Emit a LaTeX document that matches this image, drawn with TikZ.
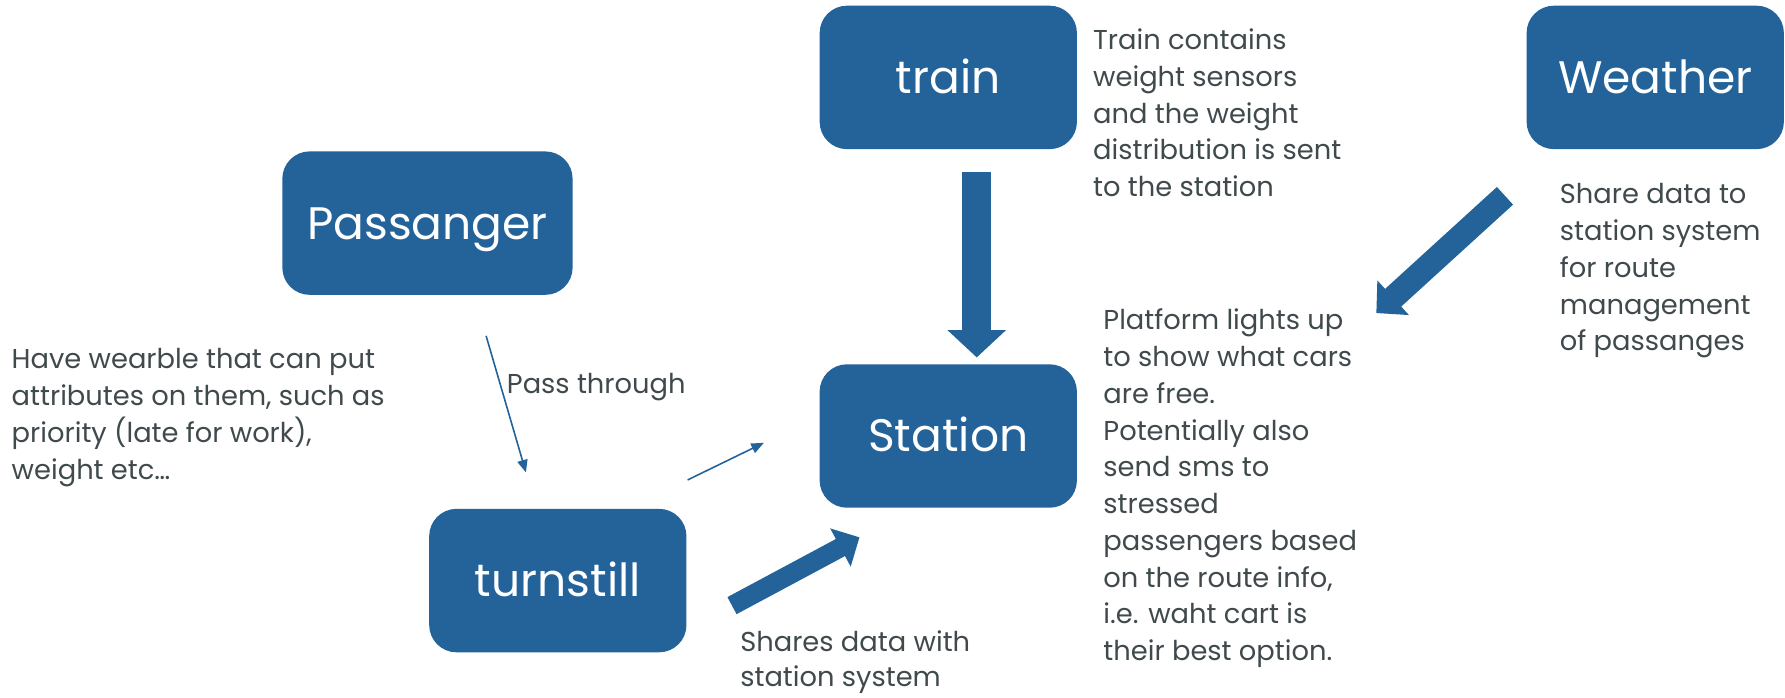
\documentclass[tikz,border=0pt]{standalone}
\usepackage{fontspec}
\setmainfont{Poppins}
\usepackage{tikz}
\usetikzlibrary{arrows.meta}
\usetikzlibrary{positioning}
\definecolor{boxblue}{HTML}{23639A}
\definecolor{txtgray}{HTML}{404A4D}

\begin{document}
\begin{tikzpicture}[x=1pt, y=-1pt, >={Triangle[length=11pt,width=9pt]}, semithick]
			\tikzstyle{block}=[fill=boxblue, draw=none, text=white, rounded corners=24pt, minimum width=226pt, minimum height=126pt, text height=28pt, text depth=0pt, font=\fontsize{40}{48}\selectfont]
			\tikzstyle{note}=[align=left, anchor=north west, inner sep=0pt, text=txtgray, font=\fontsize{24}{32.3}\selectfont]
			\tikzstyle{thin}=[->, draw=boxblue, line width=1.4pt]
			\tikzstyle{fat}=[draw=boxblue, line width=#1]
			
			\useasboundingbox (0,0) rectangle (1568,612.3);
			
			\node[block] (train) at (833,68) {train};
			\node[block] (weather) at (1454,68) {Weather};
			\node[block, minimum width=255pt] (passanger) at (375.5,196) {Passanger};
			\node[block] (station) at (833,383) {Station};
			\node[block] (turnstill) at (490,510) {turnstill};
			
			\node[note] (trainnote) at (960,25) {Train contains\\weight sensors\\and the weight\\distribution is sent\\to the station};
			\node[note] (weathernote) at (1370,161) {Share data to\\station system\\for route\\management\\of passanges};
			\node[note] (stationnote) at (969,271) {Platform lights up\\to show what cars\\are free.\\Potentially also\\send sms to\\stressed\\passengers based\\on the route info,\\i.e. waht cart is\\their best option.};
			\node[note] (passnote) at (10,306) {Have wearble that can put\\attributes on them, such as\\priority (late for work),\\weight etc…};
			\node[note] (passlabel) at (445,328) {Pass through};
			\node[note, font=\fontsize{24}{30.5}\selectfont] (sharelabel) at (650,554) {Shares data with\\station system};
			
			% free ends of the connectors
			\coordinate (p1) at (427,295);
			\coordinate (p2) at (462,415);
			\coordinate (t1) at (604,421.6);
			\coordinate (t2) at (671,389);
			\coordinate (tr1) at (858,151);
			\coordinate (tr2) at (858,314);
			\coordinate (ts1) at (643,532);
			\coordinate (ts2) at (755,472);
			\coordinate (w1) at (1322,172);
			\coordinate (w2) at (1209,275);
			
			\draw[thin] (p1) -- (p2);
			\draw[thin] (t1) -- (t2);
			\draw[fat=25.5pt, -{Triangle[length=24pt,width=50pt]}] (tr1) -- (tr2);
			\draw[fat=17pt, -{Triangle[length=19pt,width=37pt]}] (ts1) -- (ts2);
			\draw[fat=21pt, -{Triangle[length=20pt,width=40pt]}] (w1) -- (w2);
		\end{tikzpicture}
\end{document}
